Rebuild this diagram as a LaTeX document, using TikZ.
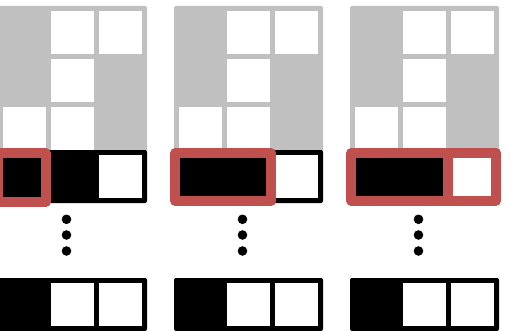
\documentclass[tikz,border=0pt]{standalone}
\definecolor{cellgrey}{RGB}{192,192,192}
\definecolor{hired}{RGB}{192,80,77}
\tikzset{
  greyback/.style={fill=cellgrey, rounded corners=2pt},
  blackback/.style={fill=black, rounded corners=2pt},
  whitecell/.style={fill=white},
  redframe/.style={draw=hired, line width=10pt, line join=round},
  dotmark/.style={fill=black}
}
\newcommand{\gridpanel}[1]{%
  \fill[greyback] (#1-2.5,6) rectangle (#1+146.5,152.5);
  \foreach \cc/\rr in {1/0,2/0,1/1,0/2,1/2} {
    \fill[whitecell] ({#1+48*\cc+2.5},{8.5+48*\rr+2.5}) rectangle ({#1+48*\cc+45.5},{8.5+48*\rr+45.5});
  }
  \fill[blackback] (#1-2.5,150) rectangle (#1+146.5,203);
  \fill[whitecell] (#1+98.5,155) rectangle (#1+141.5,198);
  \fill[blackback] (#1-2.5,278) rectangle (#1+146.5,331);
  \fill[whitecell] (#1+50.5,283) rectangle (#1+93.5,326);
  \fill[whitecell] (#1+98.5,283) rectangle (#1+141.5,326);
  \foreach \yy in {219.3,235,251} {\fill[dotmark] (#1+66,\yy) circle (4.8);}
}
\begin{document}
\begin{tikzpicture}[x=1pt,y=-1pt]
  \useasboundingbox (0,0) rectangle (510,331);
  \clip (0,0) rectangle (510,331);
  \gridpanel{0.5}
  \gridpanel{176.5}
  \gridpanel{352.5}
  \draw[redframe] (-1.7,153.3) rectangle (45.7,202);
  \draw[redframe] (175.3,153.2) rectangle (271.3,201);
  \draw[redframe] (351.3,153) rectangle (447.5,200.7);
  \draw[redframe] (447.5,153) rectangle (496.3,200.7);
\end{tikzpicture}
\end{document}
